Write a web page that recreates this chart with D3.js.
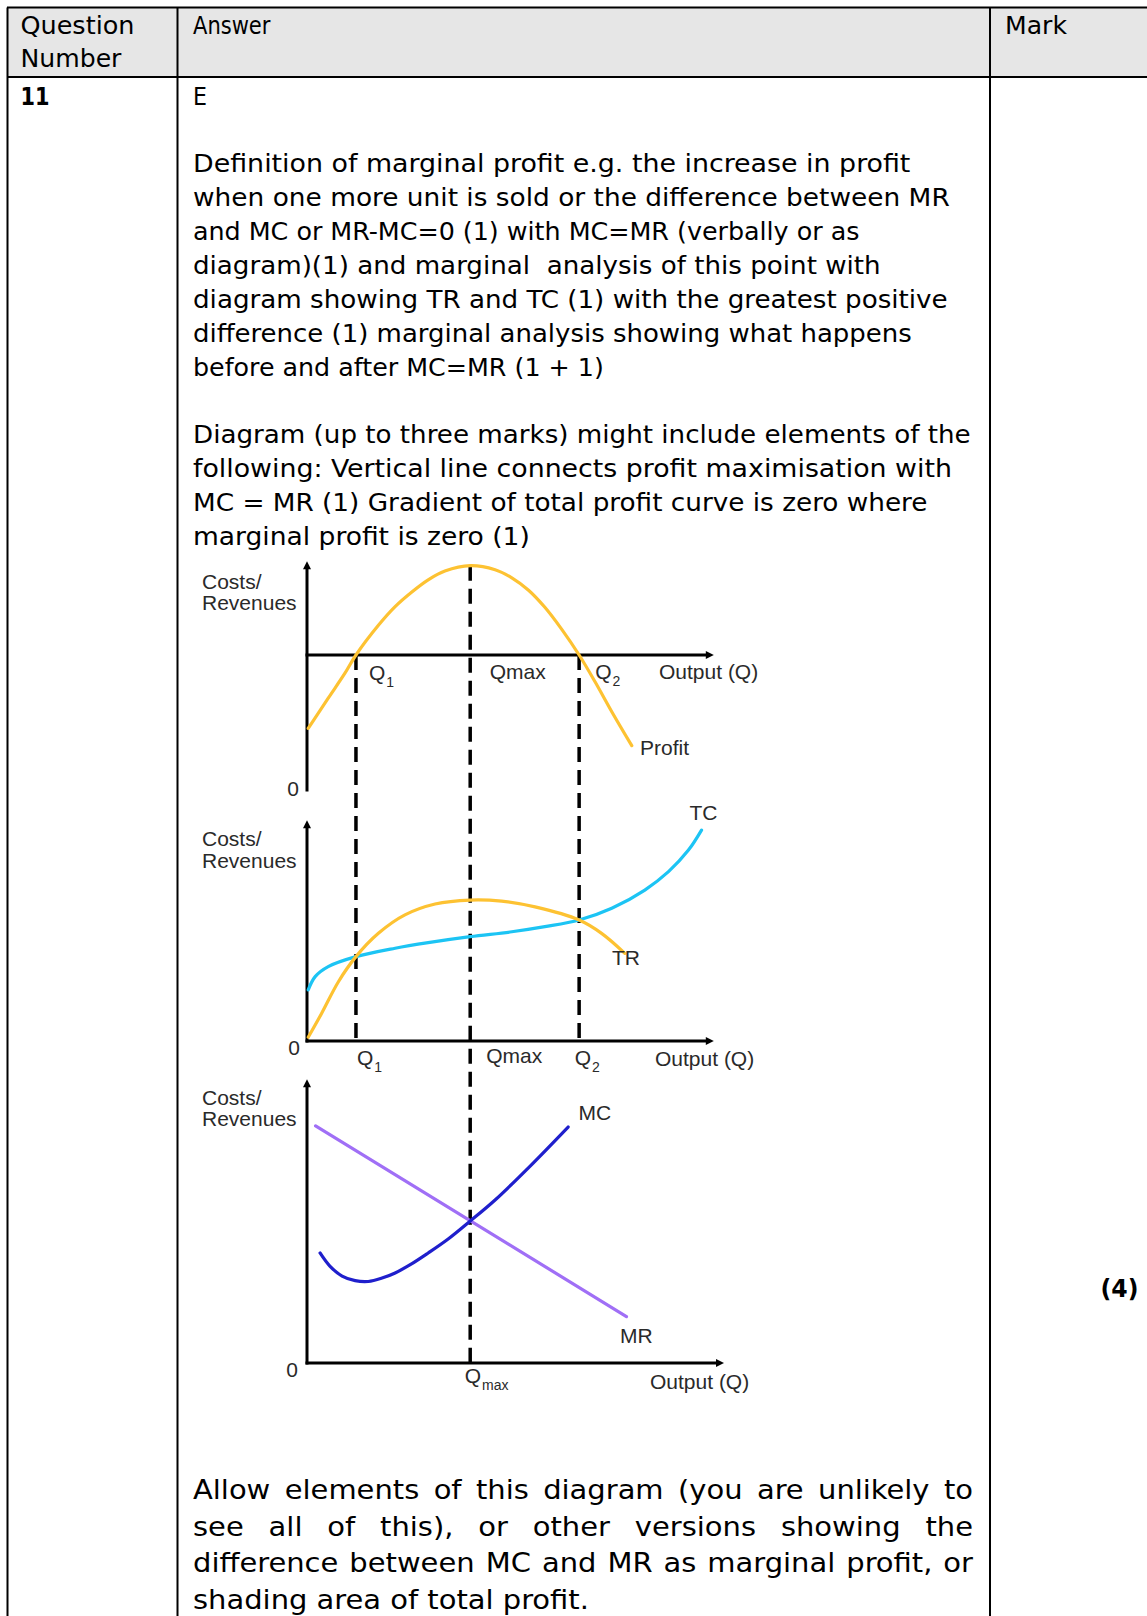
<!DOCTYPE html>
<html>
<head>
<meta charset="utf-8">
<script src="https://cdn.jsdelivr.net/npm/d3@7"></script>
<style>
  body { margin: 0; background: #fff; }
  svg { display: block; }
  text { white-space: pre; }
</style>
</head>
<body>
<div id="container"></div>
<script>
let w = 1147;
let h = 1616;

// TEXT CONTENT
let headerLabels = [["Question", "Number"], ["Answer"], ["Mark"]];
let questionNo = "11";
let answerKey = "E";
let markText = "(4)";

let definitionLines = [
  "Definition of marginal profit e.g. the increase in profit",
  "when one more unit is sold or the difference between MR",
  "and MC or MR-MC=0 (1) with MC=MR (verbally or as",
  "diagram)(1) and marginal  analysis of this point with",
  "diagram showing TR and TC (1) with the greatest positive",
  "difference (1) marginal analysis showing what happens",
  "before and after MC=MR (1 + 1)"
];
let diagramLines = [
  "Diagram (up to three marks) might include elements of the",
  "following: Vertical line connects profit maximisation with",
  "MC = MR (1) Gradient of total profit curve is zero where",
  "marginal profit is zero (1)"
];
let allowLines = [
  "Allow elements of this diagram (you are unlikely to",
  "see all of this), or other versions showing the",
  "difference between MC and MR as marginal profit, or",
  "shading area of total profit."
];

// DIAGRAM DATA (output units along Q)
let qNames = ["Q1", "Qmax", "Q2"];
let qValues = [12.0, 40.0, 66.7];

let profitQ   = [0.3, 5.2, 9.3, 12.0, 17.5, 21.6, 25.7, 29.7, 33.8, 40.0, 46.1, 50.2, 54.3, 58.3, 62.4, 66.7, 70.6, 74.7, 79.6];
let profitVal = [-32.6, -19.2, -8.1, 0, 13.2, 21.5, 28.0, 33.4, 37.3, 39.7, 37.9, 34.3, 28.8, 21.2, 11.5, 0, -11.9, -25.2, -40.3];

let tcQ   = [0.3, 2.0, 5.2, 12.0, 21.6, 29.7, 40.0, 50.2, 58.3, 66.7, 74.7, 82.8, 88.6, 93.5, 96.7];
let tcVal = [23.0, 29.0, 33.5, 38.0, 41.8, 44.3, 47.0, 49.2, 51.5, 54.5, 59.8, 68.0, 76.3, 86.0, 95.0];

let trQ   = [0.3, 3.6, 7.7, 12.0, 17.5, 24.0, 31.4, 40.0, 47.7, 55.9, 66.7, 72.2, 77.9];
let trVal = [1.7, 12.5, 26.7, 38.0, 48.5, 56.8, 61.7, 63.5, 63.0, 60.4, 54.5, 48.5, 39.5];

let mcQ   = [3.2, 5.6, 8.6, 11.8, 15.0, 18.4, 21.6, 25.2, 29.7, 34.6, 40.0, 46.1, 54.2, 64.0];
let mcVal = [38.6, 34.0, 30.5, 28.9, 28.6, 29.8, 31.6, 34.4, 38.6, 43.5, 49.8, 57.2, 68.4, 82.8];

let mrQ   = [2.1, 78.3];
let mrVal = [83.2, 16.3];

let zip = (a, b) => a.map((v, i) => [v, b[i]]);

// SVG
let viz = d3.select("#container").append("svg")
    .attr("width", w)
    .attr("height", h)
    .style("background-color", "white");

// TABLE
let col1 = 177.5, col2 = 990, tableTop = 7.5, headBottom = 77;
viz.append("rect")
  .attr("x", 7.5).attr("y", tableTop)
  .attr("width", w).attr("height", headBottom - tableTop)
  .attr("fill", "#e6e6e6");

let tableLines = [
  [7, tableTop, w, tableTop], [7, headBottom, w, headBottom],
  [7.5, tableTop, 7.5, h], [col1, tableTop, col1, h], [col2, tableTop, col2, h]
];
viz.selectAll(".grid").data(tableLines).enter()
  .append("line")
    .attr("class", "grid")
    .attr("x1", d => d[0]).attr("y1", d => d[1])
    .attr("x2", d => d[2]).attr("y2", d => d[3])
    .attr("stroke", "black")
    .attr("stroke-width", 2);

// body font: squeeze each line horizontally to the width it has in the original
let bodyFont = "'DejaVu Sans Condensed', 'DejaVu Sans', sans-serif";

function bodyText(str, xPos, yPos, size, width, bold) {
  let t = viz.append("text")
    .attr("font-family", bodyFont)
    .attr("font-size", size)
    .attr("font-weight", bold ? "bold" : "normal")
    .attr("fill", "black")
    .text(str);
  let natural = t.node().getComputedTextLength();
  let s = width ? width / natural : 0.86;
  t.attr("transform", "translate(" + xPos + "," + yPos + ") scale(" + s + ",1)");
  t.datum({natural: natural, s: s});
  return t;
}

bodyText(headerLabels[0][0], 20.5, 33.5, 25, 114);
bodyText(headerLabels[0][1], 20.5, 66.5, 25, 101);
bodyText(headerLabels[1][0], 193, 33.5, 25, 77.5);
bodyText(headerLabels[2][0], 1005, 33.5, 25, 62);
bodyText(questionNo, 20.5, 105, 25, 29, true);
bodyText(answerKey, 193, 105, 25, 14);
bodyText(markText, 1100.5, 1297, 25, 38, true);

let defWidths = [718, 757, 667, 688, 755, 719, 411];
definitionLines.forEach(function(line, i){ bodyText(line, 193, 172 + 34 * i, 25, defWidths[i]); });
let diaWidths = [778, 759, 735, 337];
diagramLines.forEach(function(line, i){ bodyText(line, 193, 442.7 + 34 * i, 25, diaWidths[i]); });

// justified paragraph (last line sets the squeeze)
let lastAllow = bodyText(allowLines[allowLines.length - 1], 193, 1499 + 36.7 * 3, 27, 396);
let allowScale = lastAllow.datum().s;
allowLines.slice(0, -1).forEach(function(line, i){
  let yPos = 1499 + 36.7 * i;
  let words = line.split(" ");
  let nodes = words.map(word => bodyText(word, 0, yPos, 27));
  let widths = nodes.map(n => n.datum().natural * allowScale);
  let gap = (780 - d3.sum(widths)) / (words.length - 1);
  let cx = 193;
  nodes.forEach(function(n, j){
    n.attr("transform", "translate(" + cx + "," + yPos + ") scale(" + allowScale + ",1)");
    cx += widths[j] + gap;
  });
});

// DIAGRAM
let x = d3.scaleLinear().domain([0, 100]).range([307, 715]);
let yProfit = d3.scaleLinear().domain([-60, 40]).range([790, 565]);
let yTotal = d3.scaleLinear().domain([0, 100]).range([1041, 819]);
let yMarginal = d3.scaleLinear().domain([0, 100]).range([1363, 1078]);

let defs = viz.append("defs");
defs.append("marker")
    .attr("id", "arrow")
    .attr("viewBox", "0 0 10 10")
    .attr("refX", 4).attr("refY", 5)
    .attr("markerWidth", 10).attr("markerHeight", 8)
    .attr("markerUnits", "userSpaceOnUse")
    .attr("orient", "auto")
  .append("path")
    .attr("d", "M0,0 L10,5 L0,10 z")
    .attr("fill", "black");

// axes: [yScale, yBottom, yTop, xEnd, xAxisValue]
let axes = [
  [yProfit, -60, 42.2, 100, 0],
  [yTotal, 0, 100, 100, 0],
  [yMarginal, 0, 100, 102.5, 0]
];
axes.forEach(function(a){
  let ys = a[0];
  viz.append("line")
    .attr("x1", x(0)).attr("y1", ys(a[1]) + 1.5)
    .attr("x2", x(0)).attr("y2", ys(a[2]) + 6)
    .attr("stroke", "black").attr("stroke-width", 3)
    .attr("marker-end", "url(#arrow)");
  viz.append("line")
    .attr("x1", x(0) - 1.5).attr("y1", ys(a[4]))
    .attr("x2", x(a[3]) - 6).attr("y2", ys(a[4]))
    .attr("stroke", "black").attr("stroke-width", 3)
    .attr("marker-end", "url(#arrow)");
});

// dashed guides
let guides = [
  [qValues[0], yProfit(0), yTotal(0)],
  [qValues[1], yProfit(profitVal[9]), yMarginal(0)],
  [qValues[2], yProfit(0), yTotal(0)]
];
viz.selectAll(".guide").data(guides).enter()
  .append("line")
    .attr("class", "guide")
    .attr("x1", d => x(d[0])).attr("y1", d => d[1])
    .attr("x2", d => x(d[0])).attr("y2", d => d[2])
    .attr("stroke", "black")
    .attr("stroke-width", 3.5)
    .attr("stroke-dasharray", "15,8");

// curves
let curves = [
  {data: zip(profitQ, profitVal), y: yProfit, color: "#fdc232"},
  {data: zip(tcQ, tcVal), y: yTotal, color: "#1cc4f4"},
  {data: zip(trQ, trVal), y: yTotal, color: "#fdc232"},
  {data: zip(mrQ, mrVal), y: yMarginal, color: "#a06ff6"},
  {data: zip(mcQ, mcVal), y: yMarginal, color: "#1f1fcc"}
];
curves.forEach(function(c){
  let lineMaker = d3.line()
      .x(d => x(d[0]))
      .y(d => c.y(d[1]))
      .curve(d3.curveCatmullRom.alpha(0.5));
  viz.append("path")
    .attr("d", lineMaker(c.data))
    .attr("fill", "none")
    .attr("stroke", c.color)
    .attr("stroke-width", 3.2)
    .attr("stroke-linecap", "round");
});

// diagram labels
let labelFont = "'Liberation Sans', Arial, sans-serif";
function label(str, xPos, yPos, sub, anchor) {
  let t = viz.append("text")
    .attr("x", xPos).attr("y", yPos)
    .attr("font-family", labelFont)
    .attr("font-size", 21)
    .attr("fill", "#2a2a2a")
    .attr("text-anchor", anchor || "start")
    .text(str);
  if (sub) {
    t.append("tspan").attr("font-size", 14).attr("dy", 7).attr("dx", 1).text(sub);
  }
  return t;
}

let axisTitleY = [[589, 610], [846, 868], [1105, 1126]];
axisTitleY.forEach(function(p){
  label("Costs/", 202, p[0]);
  label("Revenues", 202, p[1]);
});

label("0", x(0) - 8, 796, null, "end");
label("0", x(0) - 7, 1055, null, "end");
label("0", x(0) - 9, 1377, null, "end");

label("Q", x(qValues[0]) + 13, 680, "1");
label(qNames[1], x(qValues[1]) + 19.5, 679);
label("Q", x(qValues[2]) + 16, 679, "2");
label("Output (Q)", 659, 679);
label("Profit", 640, 755);

label("TC", 689.5, 820);
label("TR", 612, 965);
label("Q", x(qValues[0]) + 1, 1065, "1");
label(qNames[1], x(qValues[1]) + 16, 1063);
label("Q", x(qValues[2]) - 4.5, 1065, "2");
label("Output (Q)", 655, 1066);

label("MC", 578.5, 1120);
label("MR", 620, 1343);
label("Q", x(qValues[1]) - 5.5, 1383, "max");
label("Output (Q)", 650, 1389);
</script>
</body>
</html>
